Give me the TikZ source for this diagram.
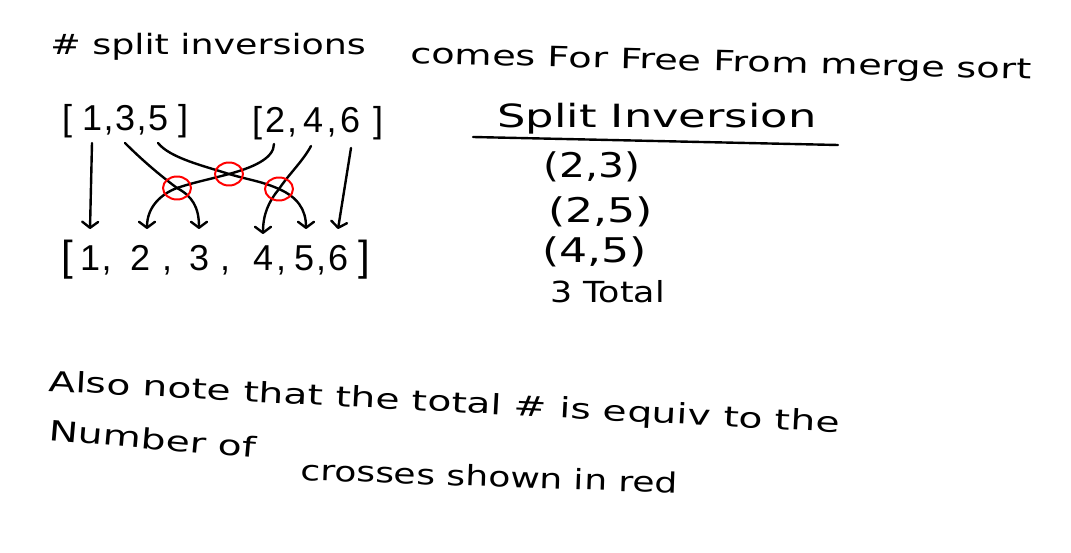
\documentclass[tikz,border=0pt]{standalone}
\usepackage{fontspec}
\setmainfont{DejaVu Sans}
\newfontfamily\digitfont{Liberation Sans}
\usetikzlibrary{arrows.meta,calc,shapes.geometric}
\newcommand{\gly}[1]{\makebox[0pt]{#1}}
\tikzset{
every picture/.style={line cap=round,line join=round},
hand text/.style={anchor=base west, inner sep=0pt, font=\fontsize{28}{30}\selectfont, xscale=#1},
hand text/.default=1.4,
digit row/.style={anchor=base west, inner sep=0pt, font=\digitfont\fontsize{36}{38}\selectfont},
pen line/.style={draw=black, line width=2.4pt},
fig flow/.style={pen line, -{Straight Barb[length=6pt,width=16pt,round]}},
cross mark/.style={ellipse, draw=red, line width=2pt, minimum width=28pt, minimum height=23pt, inner sep=0pt}
}
\begin{document}
\begin{tikzpicture}[x=1pt,y=-1pt]
\path[use as bounding box, fill=white] (0,0) rectangle (1071,553);

% title
\node[hand text=1.3] (title) at (50,55) {\# split inversions};
\node[rotate=-1.5, hand text=1.37] (titlerest) at (410,63) {comes For Free From merge sort};

% the two halves and the merged list
\node[digit row] (lefthalf) at (67,131) {\gly{[}\kern25pt\gly{1}\kern16.5pt\gly{,}\kern16.5pt\gly{3}\kern16.5pt\gly{,}\kern16.5pt\gly{5}\kern25pt\gly{]}};
\node[digit row] (righthalf) at (257,133) {\gly{[}\kern18pt\gly{2}\kern17pt\gly{,}\kern21pt\gly{4}\kern18.5pt\gly{,}\kern18.5pt\gly{6}\kern28pt\gly{]}};
\node[digit row] (merged) at (67,271) {\gly{\fontsize{42}{44}\selectfont[}\kern23pt\gly{1}\kern16.5pt\gly{,}\kern33.5pt\gly{2}\kern27pt\gly{,}\kern32pt\gly{3}\kern26pt\gly{,}\kern38pt\gly{4}\kern18pt\gly{,}\kern23pt\gly{5}\kern17pt\gly{,}\kern17pt\gly{6}\kern26pt\gly{\fontsize{42}{44}\selectfont]}};

% arrow ends under and over the digits
\foreach \d/\dx in {1/25,3/58,5/91}
  \coordinate (t\d) at ($(lefthalf.base west)+(\dx,12)$);
\foreach \d/\dx/\dy in {2/17/11,4/54/13,6/94/15}
  \coordinate (t\d) at ($(righthalf.base west)+(\dx,\dy)$);
\foreach \d/\dx/\dy in {1/23/-42,2/80/-42,3/132/-42,4/196/-37,5/239/-42,6/271/-42}
  \coordinate (b\d) at ($(merged.base west)+(\dx,\dy)$);

% crossings
\coordinate (x1) at (177,188);
\coordinate (x2) at (229,174);
\coordinate (x3) at (279,189);

\draw[fig flow] (t1) -- (b1);
\draw[fig flow] (t6) -- (b6);
\draw[fig flow] (t3) .. controls +(15,15) and +(-20,-15) .. (x1)
  .. controls +(15,8) and +(0,-22) .. (b3);
\draw[fig flow] (t5) .. controls +(12,15) and +(-25,-8) .. (x2)
  .. controls +(20,6) and +(-18,-8) .. (x3)
  .. controls +(18,8) and +(0,-20) .. (b5);
\draw[fig flow] (t2) .. controls +(0,15) and +(22,-6) .. (x2)
  .. controls +(-22,6) and +(18,-6) .. (x1)
  .. controls +(-16,6) and +(0,-22) .. (b2);
\draw[fig flow] (t4) .. controls +(-8,15) and +(10,-15) .. (x3)
  .. controls +(-10,12) and +(0,-20) .. (b4);

\node[cross mark] (c1) at (x1) {};
\node[cross mark] (c2) at (x2) {};
\node[cross mark] (c3) at (x3) {};

% table of split inversions
\node[hand text, font=\fontsize{32}{34}\selectfont] (sihead) at (497,128) {Split Inversion};
\draw[pen line] (473,137) -- (838,145);
\node[hand text=1.2, font=\fontsize{34}{36}\selectfont] (pair23) at (543,178) {(2,3)};
\node[hand text=1.3, font=\fontsize{34}{36}\selectfont] (pair25) at (548,223) {(2,5)};
\node[hand text=1.3, font=\fontsize{34}{36}\selectfont] (pair45) at (542,263) {(4,5)};
\node[hand text=1.2, font=\fontsize{29}{31}\selectfont] (total) at (550,303) {3 Total};

% note
\node[rotate=-3, hand text] (note) at (48,391) {Also note that the total \# is equiv to the};
\node[rotate=-5, hand text] (notemid) at (48,440) {Number of};
\node[rotate=-2, hand text=1.29] (noteend) at (300,480) {crosses shown in red};
\end{tikzpicture}
\end{document}
